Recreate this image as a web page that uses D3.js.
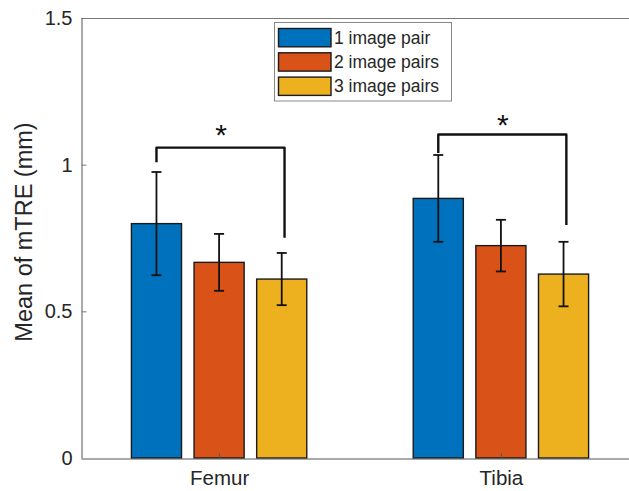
<!DOCTYPE html>
<html><head><meta charset="utf-8">
<script src="https://cdn.jsdelivr.net/npm/d3@7"></script>
<style>body{margin:0;background:#fff} text{font-family:"Liberation Sans",Arial,Helvetica,sans-serif}</style>
</head><body><svg id="c" width="629" height="491"></svg>
<script>
const categories = ["Femur", "Tibia"];
const seriesNames = ["1 image pair", "2 image pairs", "3 image pairs"];
const seriesColors = ["#0072BD", "#D95319", "#EDB120"];
// means[series][category]
const means = [[0.799, 0.885], [0.667, 0.724], [0.610, 0.627]];
const errors = [[0.176, 0.148], [0.097, 0.088], [0.089, 0.110]];
const yTicks = [0, 0.5, 1, 1.5];
const yTickLabels = ["0", "0.5", "1", "1.5"];
const yLabel = "Mean of mTRE (mm)";
// significance brackets: from series 0 to series 2 within a category
const bracketCats = [0, 1];
const bracketTop = [1.058, 1.103];
const bracketLeftEnd = [1.008, 1.040];
const bracketRightEnd = [0.751, 0.794];
const starY = [1.125, 1.158];
const starText = "*";

const svg = d3.select("#c");
const ink = "#262626";
const L = 81, R = 639, T = 18, B = 458;
const x = d3.scaleLinear().domain([0.51, 2.49]).range([L, R]);
const y = d3.scaleLinear().domain([0, 1.5]).range([B, T]);
const nS = seriesNames.length;
const groupW = Math.min(0.8, nS / (nS + 1.5));
const step = groupW / nS;
const barW = step * 0.8;
const cx = (c, s) => (c + 1) + (s - (nS - 1) / 2) * step;

// box
svg.append("line").attr("x1", L).attr("x2", R).attr("y1", T + 0.5).attr("y2", T + 0.5).attr("stroke", "#777");
svg.append("line").attr("x1", R - 0.5).attr("x2", R - 0.5).attr("y1", T).attr("y2", B).attr("stroke", "#777");

// bars
for (let s = 0; s < nS; s++) {
  svg.append("g").selectAll("rect").data(categories).join("rect")
    .attr("x", (d, c) => x(cx(c, s) - barW / 2))
    .attr("width", x(barW) - x(0))
    .attr("y", (d, c) => y(means[s][c]))
    .attr("height", (d, c) => y(0) - y(means[s][c]))
    .attr("fill", seriesColors[s]).attr("stroke", "#1a1a1a").attr("stroke-width", 1.4);
}

// axes
const yAxis = d3.axisLeft(y).tickValues(yTicks).tickFormat((d, i) => yTickLabels[i]).tickSizeInner(-5).tickSizeOuter(0).tickPadding(9);
const gy = svg.append("g").attr("transform", `translate(${L + 0.5},0)`).call(yAxis);
gy.select(".domain").attr("stroke", "#555");
gy.selectAll(".tick line").attr("stroke", "#777");
gy.selectAll("text").attr("font-size", 20).attr("fill", ink).attr("font-family", "Liberation Sans, Arial, sans-serif");
gy.selectAll(".tick").filter(d => d === 0).select("line").remove();

const xAxis = d3.axisBottom(x).tickValues(categories.map((d, i) => i + 1)).tickFormat((d, i) => categories[i]).tickSizeInner(-5).tickSizeOuter(0).tickPadding(12);
const gx = svg.append("g").attr("transform", `translate(0,${B + 0.5})`).call(xAxis);
gx.select(".domain").attr("stroke", "#555");
gx.selectAll(".tick line").attr("stroke", "#555");
gx.selectAll("text").attr("font-size", 20.5).attr("fill", ink).attr("font-family", "Liberation Sans, Arial, sans-serif");

// error bars
for (let s = 0; s < nS; s++) {
  const g = svg.append("g").attr("stroke", "#111").attr("stroke-width", 1.8).attr("fill", "none");
  categories.forEach((d, c) => {
    const xc = x(cx(c, s));
    const hi = y(means[s][c] + errors[s][c]), lo = y(means[s][c] - errors[s][c]);
    g.append("line").attr("x1", xc).attr("x2", xc).attr("y1", hi).attr("y2", lo);
    g.append("line").attr("x1", xc - 5).attr("x2", xc + 5).attr("y1", hi).attr("y2", hi);
    g.append("line").attr("x1", xc - 5).attr("x2", xc + 5).attr("y1", lo).attr("y2", lo);
  });
}

// brackets
bracketCats.forEach((c, i) => {
  const x1 = x(cx(c, 0)), x2 = x(cx(c, nS - 1) + 0.01);
  svg.append("path")
    .attr("d", `M${x1},${y(bracketLeftEnd[i])}V${y(bracketTop[i])}H${x2}V${y(bracketRightEnd[i])}`)
    .attr("fill", "none").attr("stroke", "#111").attr("stroke-width", 2.4).attr("stroke-linejoin", "round");
  svg.append("text").attr("x", x(c + 1) + 2).attr("y", y(starY[i]) + 17)
    .attr("text-anchor", "middle").attr("font-size", 30).attr("fill", "#111").text(starText);
});

// y label
svg.append("text").attr("transform", `translate(32,232) rotate(-90)`)
  .attr("text-anchor", "middle").attr("font-size", 23.5).attr("fill", ink).text(yLabel);

// legend
const lg = svg.append("g");
lg.append("rect").attr("x", 274.5).attr("y", 22.5).attr("width", 177).attr("height", 78.5)
  .attr("fill", "#fff").attr("stroke", "#888").attr("stroke-width", 1);
seriesNames.forEach((n, i) => {
  const yc = 37.5 + i * 24.3;
  lg.append("rect").attr("x", 278.5).attr("y", yc - 9).attr("width", 52.5).attr("height", 18.3)
    .attr("fill", seriesColors[i]).attr("stroke", "#1a1a1a").attr("stroke-width", 1.4);
  lg.append("text").attr("x", 334).attr("y", yc).attr("dy", "0.36em").attr("font-size", 17.5)
    .attr("fill", ink).text(n);
});
</script></body></html>
